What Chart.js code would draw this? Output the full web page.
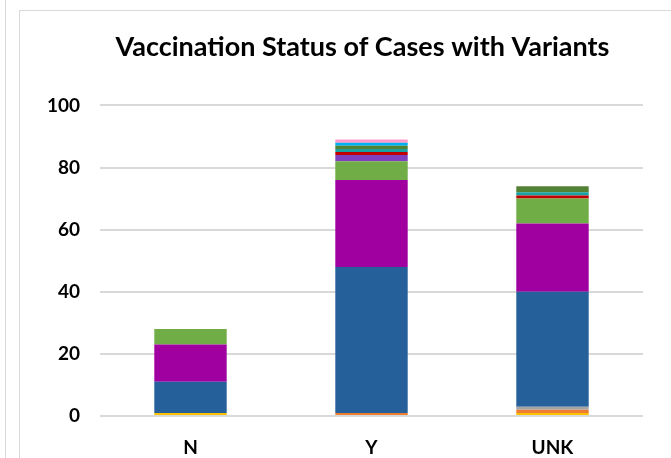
<!DOCTYPE html>
<html>
<head>
<meta charset="utf-8">
<script src="https://cdn.jsdelivr.net/npm/chart.js@4/dist/chart.umd.min.js"></script>
<style>
  html, body { margin: 0; padding: 0; background: #fff; overflow: hidden; }
  #wrap { position: relative; width: 671px; height: 458px; }
  #lineA { position: absolute; left: 5px; top: 0; width: 1px; height: 458px; background: #D9D9D9; }
  #lineB { position: absolute; left: 19px; top: 10px; width: 1px; height: 448px; background: #D9D9D9; }
  #lineC { position: absolute; left: 19px; top: 10px; width: 652px; height: 1px; background: #D9D9D9; }
  canvas { position: absolute; left: 0; top: 0; }
</style>
</head>
<body>
<div id="wrap">
  <div id="lineA"></div>
  <div id="lineB"></div>
  <div id="lineC"></div>
  <canvas id="c" width="671" height="458"></canvas>
</div>
<script>
const categories = ["N", "Y", "UNK"];
const yTicks = [0, 20, 40, 60, 80, 100];

// series stacked bottom to top
const seriesYellow   = [1, 0, 1];
const seriesOrange   = [0, 1, 1];
const seriesGray     = [0, 0, 1];
const seriesBlue     = [10, 47, 37];
const seriesPurple   = [12, 28, 22];
const seriesGreen    = [5, 6, 8];
const seriesViolet   = [0, 2, 0];
const seriesRed      = [0, 1, 1];
const seriesTeal     = [0, 1, 1];
const seriesDkGreen  = [0, 1, 2];
const seriesLtBlue   = [0, 1, 0];
const seriesPink     = [0, 1, 0];

const seriesNames = ["S1","S2","S3","S4","S5","S6","S7","S8","S9","S10","S11","S12"];
const seriesData = [seriesYellow, seriesOrange, seriesGray, seriesBlue, seriesPurple, seriesGreen,
                    seriesViolet, seriesRed, seriesTeal, seriesDkGreen, seriesLtBlue, seriesPink];
const seriesColors = ["#FFC000", "#ED7D31", "#A5A5A5", "#25609A", "#A000A0", "#70AD47",
                      "#7F3FBF", "#C00000", "#1AA1A1", "#548235", "#00B0F0", "#FF99CC"];

const FONT = "Lato, 'Liberation Sans', sans-serif";

// center the title over the (cropped) chart frame, as in the original
const titleCenterPlugin = {
  id: 'titleCenter',
  afterLayout(chart) {
    const t = chart.titleBlock;
    if (t) { t.left = 0; t.right = 725; t.width = 725; }
  }
};

new Chart(document.getElementById('c'), {
  type: 'bar',
  data: {
    labels: categories,
    datasets: seriesData.map((d, i) => ({
      label: seriesNames[i],
      data: d,
      backgroundColor: seriesColors[i],
      borderWidth: 0,
      categoryPercentage: 0.4,
      barPercentage: 1.0
    }))
  },
  plugins: [titleCenterPlugin],
  options: {
    responsive: false,
    animation: false,
    layout: { padding: { left: 30, right: 28, top: 0, bottom: 0 } },
    plugins: {
      legend: { display: false },
      tooltip: { enabled: false },
      title: {
        display: true,
        text: 'Vaccination Status of Cases with Variants',
        color: '#000',
        font: { family: FONT, size: 27, weight: 'bold' },
        padding: { top: 31, bottom: 42 }
      }
    },
    scales: {
      x: {
        stacked: true,
        grid: { display: false, drawTicks: false },
        border: { display: false },
        ticks: { color: '#000', font: { family: FONT, size: 19, weight: 'bold' }, padding: 20 },
        afterFit: (s) => { s.height = 42; }
      },
      y: {
        stacked: true,
        min: 0,
        max: 100,
        afterBuildTicks: (s) => { s.ticks = yTicks.map(v => ({ value: v })); },
        grid: { color: '#D9D9D9', lineWidth: 2, drawTicks: false },
        border: { display: false },
        ticks: { color: '#000', font: { family: FONT, size: 19, weight: 'bold' }, padding: 20 },
        afterFit: (s) => { s.width = 70; }
      }
    }
  }
});
</script>
</body>
</html>
